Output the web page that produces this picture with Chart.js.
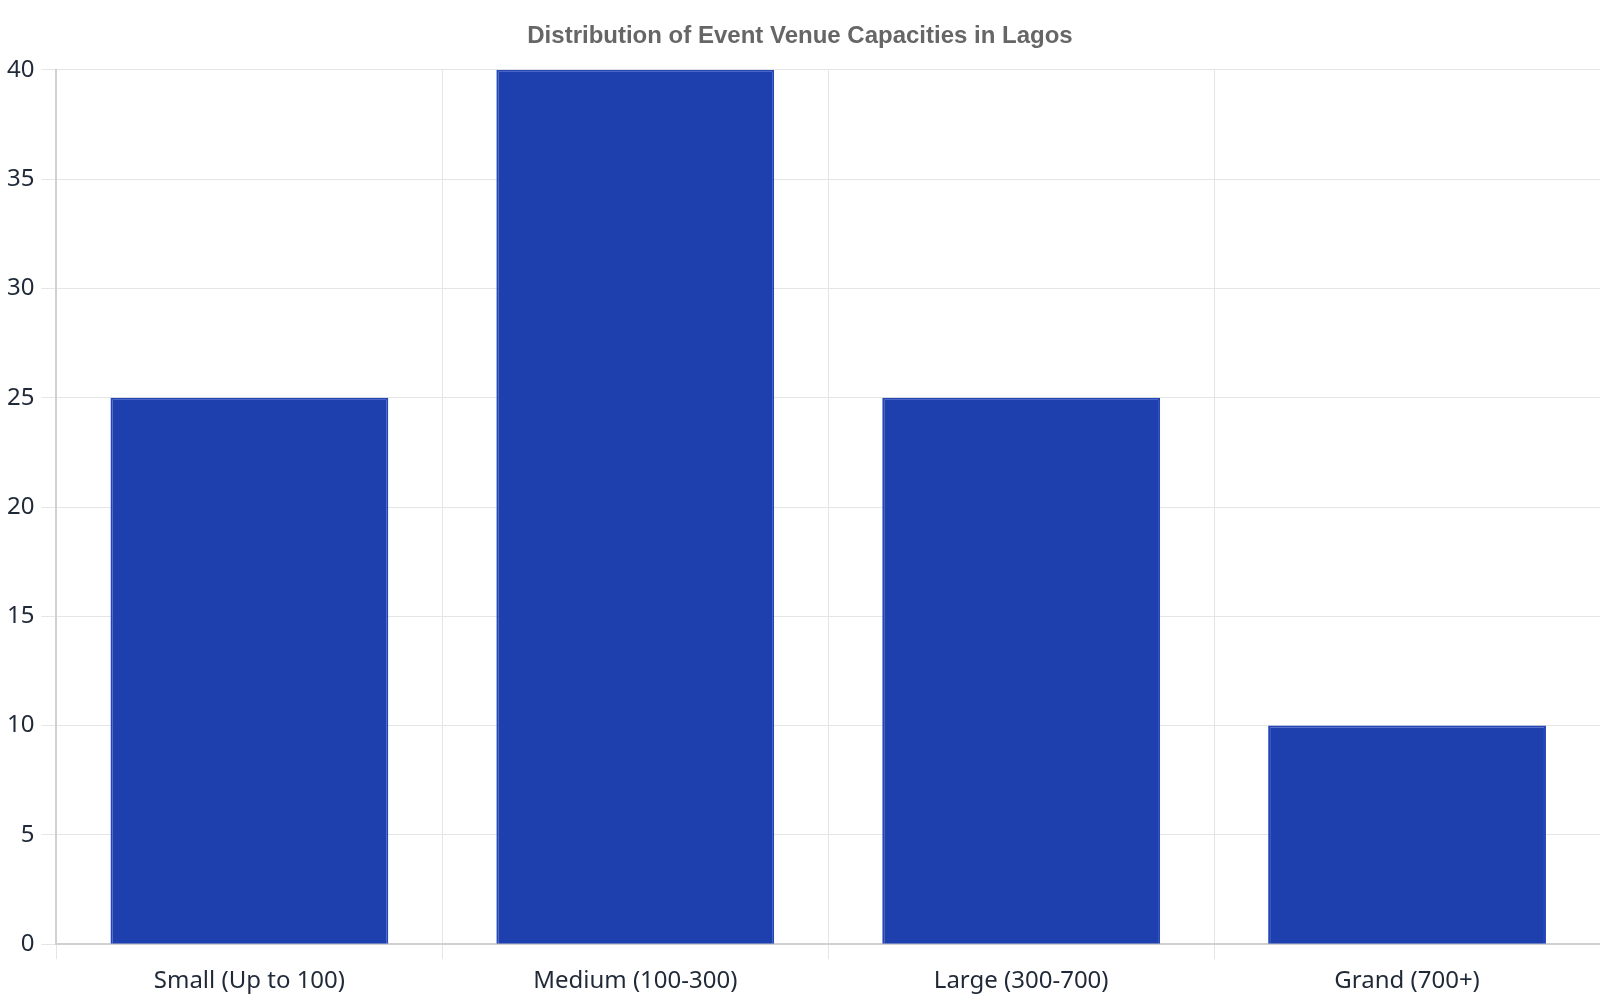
<!DOCTYPE html>
<html>
<head>
<meta charset="utf-8">
<script src="https://cdn.jsdelivr.net/npm/chart.js@4.4.1/dist/chart.umd.min.js"></script>
<style>
  html, body { margin: 0; padding: 0; background: #fff; }
  #wrap { width: 1600px; height: 1000px; }
</style>
</head>
<body>
<div id="wrap"><canvas id="myChart"></canvas></div>
<script>
const categorias = ["Small (Up to 100)", "Medium (100-300)", "Large (300-700)", "Grand (700+)"];
const venues = [25, 40, 25, 10];
const yTicks = [0, 5, 10, 15, 20, 25, 30, 35, 40];

const ctx = document.getElementById("myChart");

new Chart(ctx, {
  type: "bar",
  data: {
    labels: categorias,
    datasets: [{
      label: "Venues",
      data: venues,
      backgroundColor: "#1e40af",
      borderColor: "#2446b8",
      borderWidth: 2,
    }],
  },
  options: {
    responsive: true,
    maintainAspectRatio: false,
    animation: false,
    layout: { padding: { top: 8, right: 0, bottom: -4, left: 0 } },
    plugins: {
      legend: { display: false },
      tooltip: { enabled: false },
      title: {
        display: true,
        text: "Distribution of Event Venue Capacities in Lagos",
        color: "#666666",
        font: { family: "'Liberation Sans', Arial, sans-serif", size: 24, weight: "bold" },
        padding: { top: 14, bottom: 19 },
      },
    },
    scales: {
      x: {
        grid: { color: "#e5e5e5", tickLength: 15 },
        border: { color: "#d0d0d0", width: 2 },
        ticks: {
          color: "#1f2937",
          font: { family: "'Noto Sans', sans-serif", size: 24 },
          padding: 8,
        },
      },
      y: {
        min: 0,
        max: 40,
        afterBuildTicks: (axis) => { axis.ticks = yTicks.map((v) => ({ value: v })); },
        grid: { color: "#e5e5e5", tickLength: 15 },
        border: { color: "#d0d0d0", width: 2 },
        ticks: {
          color: "#1f2937",
          font: { family: "'Noto Sans', sans-serif", size: 24 },
          padding: 7,
        },
      },
    },
  },
});
</script>
</body>
</html>
